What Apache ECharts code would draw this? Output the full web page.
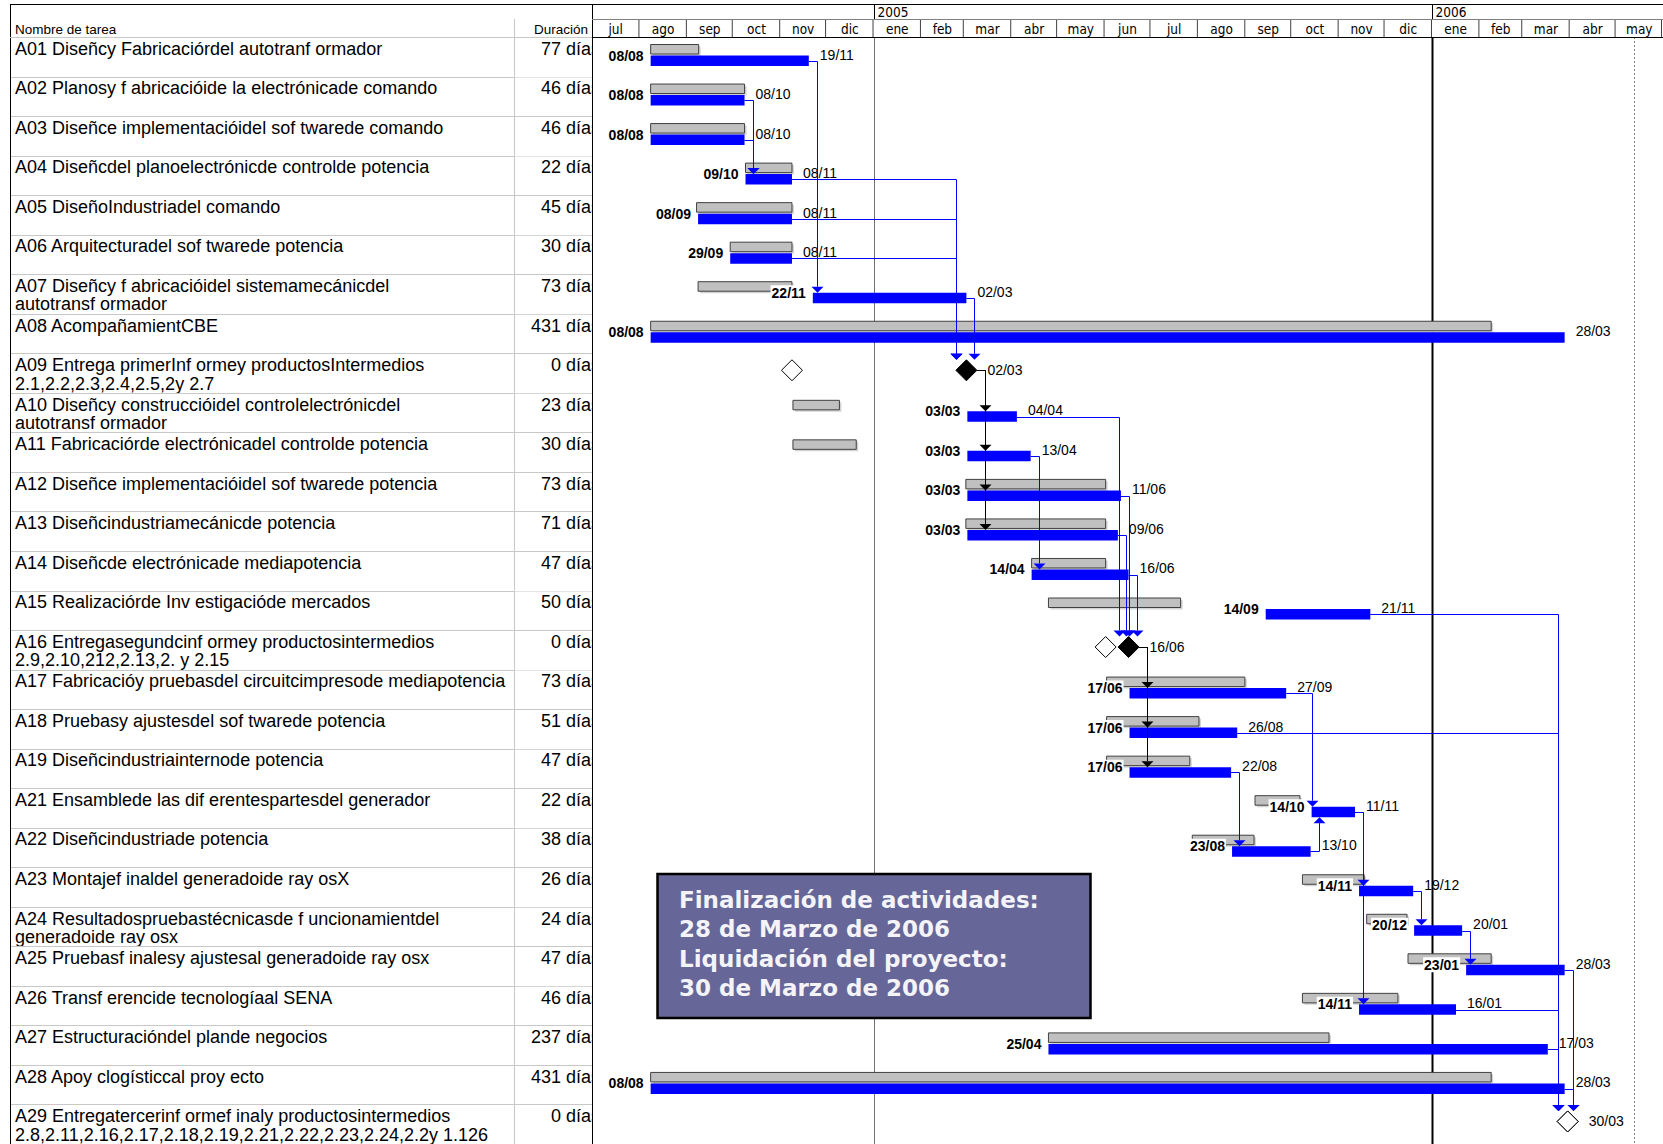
<!DOCTYPE html>
<html>
<head>
<meta charset="utf-8">
<script src="https://cdn.jsdelivr.net/npm/echarts@6/dist/echarts.min.js"></script>
<style>
  html, body { margin: 0; padding: 0; background: #fff; }
  #chart { width: 1663px; height: 1144px; }
</style>
</head>
<body>
<div id="chart"></div>
<script>
// ---- Task table ----
const taskCodes = ['A01','A02','A03','A04','A05','A06','A07','A08','A09','A10','A11','A12','A13','A14',
  'A15','A16','A17','A18','A19','A21','A22','A23','A24','A25','A26','A27','A28','A29'];

const taskNames = [
  'Diseñcy Fabricaciórdel autotranf ormador',
  'Planosy f abricacióide la electrónicade comando',
  'Diseñce implementacióidel sof twarede comando',
  'Diseñcdel planoelectrónicde controlde potencia',
  'DiseñoIndustriadel comando',
  'Arquitecturadel sof twarede potencia',
  'Diseñcy f abricacióidel sistemamecánicdel\nautotransf ormador',
  'AcompañamientCBE',
  'Entrega primerInf ormey productosIntermedios\n2.1,2.2,2.3,2.4,2.5,2y 2.7',
  'Diseñcy construccióidel controlelectrónicdel\nautotransf ormador',
  'Fabricaciórde electrónicadel controlde potencia',
  'Diseñce implementacióidel sof twarede potencia',
  'Diseñcindustriamecánicde potencia',
  'Diseñcde electrónicade mediapotencia',
  'Realizaciórde Inv estigacióde mercados',
  'Entregasegundcinf ormey productosintermedios\n2.9,2.10,212,2.13,2. y 2.15',
  'Fabricacióy pruebasdel circuitcimpresode mediapotencia',
  'Pruebasy ajustesdel sof twarede potencia',
  'Diseñcindustriainternode potencia',
  'Ensamblede las dif erentespartesdel generador',
  'Diseñcindustriade potencia',
  'Montajef inaldel generadoide ray osX',
  'Resultadospruebastécnicasde f uncionamientdel\ngeneradoide ray osx',
  'Pruebasf inalesy ajustesal generadoide ray osx',
  'Transf erencide tecnologíaal SENA',
  'Estructuracióndel plande negocios',
  'Apoy clogísticcal proy ecto',
  'Entregatercerinf ormef inaly productosintermedios\n2.8,2.11,2.16,2.17,2.18,2.19,2.21,2.22,2.23,2.24,2.2y 1.126'
];

const durations = ['77 días','46 días','46 días','22 días','45 días','30 días','73 días','431 días','0 días',
  '23 días','30 días','73 días','71 días','47 días','50 días','0 días','73 días','51 días','47 días',
  '22 días','38 días','26 días','24 días','47 días','46 días','237 días','431 días','0 días'];

// ---- Schedule (actual) ----
const actualStart = ['2004-08-08','2004-08-08','2004-08-08','2004-10-09','2004-09-08','2004-09-29','2004-11-22',
  '2004-08-08','2005-03-02','2005-03-03','2005-03-03','2005-03-03','2005-03-03','2005-04-14','2005-09-14',
  '2005-06-16','2005-06-17','2005-06-17','2005-06-17','2005-10-14','2005-08-23','2005-11-14','2005-12-20',
  '2006-01-23','2005-11-14','2005-04-25','2004-08-08','2006-03-30'];
const actualEnd = ['2004-11-19','2004-10-08','2004-10-08','2004-11-08','2004-11-08','2004-11-08','2005-03-02',
  '2006-03-28','2005-03-02','2005-04-04','2005-04-13','2005-06-11','2005-06-09','2005-06-16','2005-11-21',
  '2005-06-16','2005-09-27','2005-08-26','2005-08-22','2005-11-11','2005-10-13','2005-12-19','2006-01-20',
  '2006-03-28','2006-01-16','2006-03-17','2006-03-28','2006-03-30'];

// ---- Baseline ----
const baselineStart = ['2004-08-08','2004-08-08','2004-08-08','2004-10-09','2004-09-07','2004-09-29','2004-09-08',
  '2004-08-08','2004-11-08','2004-11-09','2004-11-09','2005-03-02','2005-03-02','2005-04-14','2005-04-25',
  '2005-06-01','2005-06-02','2005-06-02','2005-06-02','2005-09-07','2005-07-28','2005-10-08','2005-11-19',
  '2005-12-16','2005-10-08','2005-04-25','2004-08-08','2006-03-30'];
const baselineEnd = ['2004-09-08','2004-10-08','2004-10-08','2004-11-08','2004-11-08','2004-11-08','2004-11-08',
  '2006-02-08','2004-11-08','2004-12-09','2004-12-20','2005-06-01','2005-06-01','2005-06-01','2005-07-20',
  '2005-06-01','2005-08-31','2005-08-01','2005-07-26','2005-10-06','2005-09-06','2005-11-17','2005-12-15',
  '2006-02-08','2005-12-09','2005-10-25','2006-02-08','2006-03-30'];

const milestoneCodes = ['A09','A16','A29'];

// ---- Finish-to-start links ----
const links = [
  ['A01','A07'],['A02','A04'],['A03','A04'],['A04','A09'],['A05','A09'],['A06','A09'],['A07','A09'],
  ['A09','A10'],['A09','A11'],['A09','A12'],['A09','A13'],
  ['A10','A16'],['A11','A14'],['A12','A16'],['A13','A16'],['A14','A16'],
  ['A16','A17'],['A16','A18'],['A16','A19'],
  ['A17','A21'],['A19','A22'],['A22','A21'],['A21','A23'],['A21','A26'],['A23','A24'],['A24','A25'],
  ['A15','A29'],['A18','A29'],['A25','A29'],['A26','A29'],['A27','A29'],['A28','A29']
];

// ---- Timescale ----
const axisStart = '2004-07-01';
const axisEnd = '2006-06-01';
const monthLabels = ['jul','ago','sep','oct','nov','dic','ene','feb','mar','abr','may','jun',
  'jul','ago','sep','oct','nov','dic','ene','feb','mar','abr','may'];
const monthStarts = ['2004-07-01','2004-08-01','2004-09-01','2004-10-01','2004-11-01','2004-12-01',
  '2005-01-01','2005-02-01','2005-03-01','2005-04-01','2005-05-01','2005-06-01','2005-07-01','2005-08-01',
  '2005-09-01','2005-10-01','2005-11-01','2005-12-01','2006-01-01','2006-02-01','2006-03-01','2006-04-01',
  '2006-05-01'];
const yearLabels = ['2005','2006'];
const yearStarts = ['2005-01-01','2006-01-01'];
const ruleDates = ['2005-01-01','2006-01-01','2006-05-13'];

const noteLines = ['Finalización de actividades:', '28 de Marzo de 2006', 'Liquidación del proyecto:', '30 de Marzo de 2006'];

// ---- helpers ----
function ts(s, h) { const p = s.split('-').map(Number); return new Date(p[0], p[1] - 1, p[2], h || 0).getTime(); }
const dm = s => s.slice(8, 10) + '/' + s.slice(5, 7);
const idxOf = {}; taskCodes.forEach((c, i) => { idxOf[c] = i; });
const isMs = i => milestoneCodes.indexOf(taskCodes[i]) >= 0;
const AX_MIN = ts(axisStart), AX_MAX = ts(axisEnd);
const ROWS = taskCodes.length;

// layout/style constants
const ROW_H = 39.6;
const BASE_Y = 7.5, BASE_H = 9.5;
const BAR_Y = 18.5, BAR_H = 10.5;
const MS_Y = 17, MS_R = 10.5;
const SANS = '"Liberation Sans", Arial, sans-serif';
const NARROW = '"Liberation Sans Narrow", "DejaVu Sans Condensed", "Liberation Sans", sans-serif';
const BLUE = '#0000ff';

function rowTop(api, i) { return api.coord([AX_MIN, i])[1]; }
function diamond(cx, cy, r) { return [[cx, cy - r], [cx + r, cy], [cx, cy + r], [cx - r, cy]]; }

const chart = echarts.init(document.getElementById('chart'), null, { renderer: 'svg' });

const taskRows = taskCodes.map((c, i) => [0, i]);
const barData = [], baseData = [], msData = [], baseMsData = [];
taskCodes.forEach((c, i) => {
  if (isMs(i)) {
    msData.push([ts(actualStart[i], 17), i]);
    baseMsData.push([ts(baselineStart[i], 17), i]);
  } else {
    barData.push([ts(actualStart[i], 8), i, ts(actualEnd[i], 17)]);
    baseData.push([ts(baselineStart[i], 8), i, ts(baselineEnd[i], 17)]);
  }
});

const option = {
  animation: false,
  backgroundColor: '#fff',
  grid: [
    { left: 592, right: 0, top: 37, height: ROWS * ROW_H },
    { left: 592, right: 0, top: 4, height: 33 },
    { left: 10, width: 582, top: 37, height: ROWS * ROW_H }
  ],
  xAxis: [
    { gridIndex: 0, type: 'time', min: AX_MIN, max: AX_MAX, show: false, splitLine: { show: false } },
    { gridIndex: 1, type: 'time', min: AX_MIN, max: AX_MAX, show: false, splitLine: { show: false } },
    { gridIndex: 2, type: 'value', min: 0, max: 582, show: false, splitLine: { show: false } }
  ],
  yAxis: [
    { gridIndex: 0, type: 'value', min: 0, max: ROWS, inverse: true, show: false, splitLine: { show: false } },
    { gridIndex: 1, type: 'value', min: 0, max: 1, show: false, splitLine: { show: false } },
    { gridIndex: 2, type: 'value', min: 0, max: ROWS, inverse: true, show: false, splitLine: { show: false } }
  ],
  graphic: [
    // table frame
    { type: 'line', z: 40, shape: { x1: 10, y1: 4.5, x2: 1663, y2: 4.5 }, style: { stroke: '#000', lineWidth: 1 } },
    { type: 'line', z: 40, shape: { x1: 10.5, y1: 4, x2: 10.5, y2: 1144 }, style: { stroke: '#000', lineWidth: 1 } },
    { type: 'line', z: 40, shape: { x1: 592.5, y1: 4, x2: 592.5, y2: 1144 }, style: { stroke: '#000', lineWidth: 1 } },
    { type: 'line', z: 40, shape: { x1: 10, y1: 37.5, x2: 592, y2: 37.5 }, style: { stroke: '#c8c8c8', lineWidth: 1 } },
    { type: 'line', z: 40, shape: { x1: 514.5, y1: 19, x2: 514.5, y2: 37 }, style: { stroke: '#c8c8c8', lineWidth: 1 } },
    { type: 'line', z: 40, shape: { x1: 592, y1: 19.5, x2: 1663, y2: 19.5 }, style: { stroke: '#808080', lineWidth: 1 } },
    { type: 'line', z: 40, shape: { x1: 592, y1: 37.5, x2: 1663, y2: 37.5 }, style: { stroke: '#000', lineWidth: 1 } },
    { type: 'text', z: 40, style: { text: 'Nombre de tarea', x: 15, y: 29, verticalAlign: 'middle', font: '13.5px ' + SANS, fill: '#000' } },
    { type: 'text', z: 40, style: { text: 'Duración', x: 588, y: 29, align: 'right', verticalAlign: 'middle', font: '13.5px ' + SANS, fill: '#000' } },
    // note box
    {
      type: 'group', z: 60, children: [
        { type: 'rect', z: 60, shape: { x: 657.5, y: 874, width: 433, height: 144 }, style: { fill: '#666699', stroke: '#000', lineWidth: 2.5 } }
      ].concat(noteLines.map((t, k) => ({
        type: 'text', z: 61,
        style: { text: t, x: 679, y: 900 + k * 29.3, verticalAlign: 'middle', font: 'bold 23px "DejaVu Sans", Verdana, sans-serif', fill: '#f4f4f8' }
      })))
    }
  ],
  series: [
    // task name / duration table
    {
      type: 'custom', xAxisIndex: 2, yAxisIndex: 2, clip: true, z: 2, data: taskRows,
      renderItem: function (params, api) {
        const i = api.value(1);
        const cs = params.coordSys;
        const top = api.coord([0, i])[1];
        const bot = api.coord([0, i + 1])[1];
        const x0 = cs.x;
        return {
          type: 'group', children: [
            { type: 'text', style: { text: taskCodes[i] + ' ' + taskNames[i], x: x0 + 5, y: top + 2.5, verticalAlign: 'top',
              lineHeight: 18.5, font: '18px ' + SANS, fill: '#000' } },
            // duration cell covers any overflow of the name column
            { type: 'rect', shape: { x: x0 + 505, y: top + 1, width: 80, height: bot - top - 1 }, style: { fill: '#fff' } },
            { type: 'text', style: { text: durations[i], x: x0 + 590, y: top + 11.75, align: 'right', verticalAlign: 'middle',
              font: '18px ' + SANS, fill: '#000' } },
            { type: 'line', shape: { x1: x0, y1: Math.round(bot) + 0.5, x2: x0 + cs.width, y2: Math.round(bot) + 0.5 },
              style: { stroke: '#c8c8c8', lineWidth: 1 } },
            { type: 'line', shape: { x1: x0 + 504.5, y1: top, x2: x0 + 504.5, y2: bot }, style: { stroke: '#c8c8c8', lineWidth: 1 } }
          ]
        };
      }
    },
    // timescale: months
    {
      type: 'custom', xAxisIndex: 1, yAxisIndex: 1, z: 2,
      data: monthStarts.map((d, k) => [ts(d), 0, k < monthStarts.length - 1 ? ts(monthStarts[k + 1]) : AX_MAX]),
      renderItem: function (params, api) {
        const cs = params.coordSys;
        const x1 = api.coord([api.value(0), 0])[0];
        const x2 = api.coord([api.value(2), 0])[0];
        const k = params.dataIndex;
        const yTop = cs.y + 15.5, yBot = cs.y + cs.height;
        const ch = [
          { type: 'text', style: { text: monthLabels[k], x: (x1 + x2) / 2, y: cs.y + 24.5, align: 'center', verticalAlign: 'middle',
            font: '13.5px ' + NARROW, fill: '#000' } },
          { type: 'line', shape: { x1: Math.min(x2, 1662) - 0.5, y1: yTop, x2: Math.min(x2, 1662) - 0.5, y2: yBot }, style: { stroke: '#404040', lineWidth: 1 } }
        ];
        return { type: 'group', children: ch };
      }
    },
    // timescale: years
    {
      type: 'custom', xAxisIndex: 1, yAxisIndex: 1, z: 2,
      data: yearStarts.map(d => [ts(d), 0]),
      renderItem: function (params, api) {
        const cs = params.coordSys;
        const x = Math.round(api.coord([api.value(0), 0])[0]) + 0.5;
        return {
          type: 'group', children: [
            { type: 'line', shape: { x1: x, y1: cs.y, x2: x, y2: cs.y + 15.5 }, style: { stroke: '#000', lineWidth: 1 } },
            { type: 'text', style: { text: yearLabels[params.dataIndex], x: x + 3, y: cs.y + 7.5, verticalAlign: 'middle',
              font: '13.5px ' + NARROW, fill: '#000' } }
          ]
        };
      }
    },
    // vertical rules across the schedule
    {
      type: 'custom', xAxisIndex: 0, yAxisIndex: 0, z: 1,
      data: ruleDates.map(d => [ts(d), 0]),
      renderItem: function (params, api) {
        const cs = params.coordSys;
        const x = Math.round(api.coord([api.value(0), 0])[0]) + 0.5;
        const looks = [
          { stroke: '#707070', lineWidth: 1 },
          { stroke: '#000', lineWidth: 2 },
          { stroke: '#808080', lineWidth: 1, lineDash: [2, 2] }
        ];
        return { type: 'line', shape: { x1: x, y1: cs.y, x2: x, y2: cs.y + cs.height }, style: looks[params.dataIndex] };
      }
    },
    // baseline bars
    {
      type: 'custom', xAxisIndex: 0, yAxisIndex: 0, z: 3, data: baseData,
      renderItem: function (params, api) {
        const i = api.value(1);
        const top = rowTop(api, i);
        const x1 = api.coord([api.value(0), i])[0];
        const x2 = api.coord([api.value(2), i])[0];
        return {
          type: 'group', children: [
            { type: 'rect', shape: { x: x1 + 2, y: top + BASE_Y + 2, width: x2 - x1, height: BASE_H }, style: { fill: '#d4d4d4' } },
            { type: 'rect', shape: { x: x1, y: top + BASE_Y, width: x2 - x1, height: BASE_H },
              style: { fill: '#c0c0c0', stroke: '#404040', lineWidth: 1 } }
          ]
        };
      }
    },
    // baseline milestones (drawn later so a coinciding one stays hollow)
    {
      type: 'custom', xAxisIndex: 0, yAxisIndex: 0, z: 5, data: baseMsData,
      renderItem: function (params, api) {
        const i = api.value(1);
        const top = rowTop(api, i);
        const x = api.coord([api.value(0), i])[0];
        return { type: 'polygon', shape: { points: diamond(x, top + MS_Y, MS_R) }, style: { fill: '#fff', stroke: '#000', lineWidth: 1 } };
      }
    },
    // actual bars
    {
      type: 'custom', xAxisIndex: 0, yAxisIndex: 0, z: 4, data: barData,
      renderItem: function (params, api) {
        const i = api.value(1);
        const top = rowTop(api, i);
        const x1 = api.coord([api.value(0), i])[0];
        const x2 = api.coord([api.value(2), i])[0];
        return { type: 'rect', shape: { x: x1, y: top + BAR_Y, width: x2 - x1, height: BAR_H }, style: { fill: BLUE } };
      }
    },
    // actual milestones
    {
      type: 'custom', xAxisIndex: 0, yAxisIndex: 0, z: 4, data: msData,
      renderItem: function (params, api) {
        const i = api.value(1);
        const top = rowTop(api, i);
        const x = api.coord([api.value(0), i])[0];
        return {
          type: 'group', children: [
            { type: 'polygon', shape: { points: diamond(x, top + MS_Y, MS_R) }, style: { fill: '#000', stroke: '#000', lineWidth: 1 } },
            { type: 'text', z2: 10, style: { text: dm(actualEnd[i]), x: x + 21, y: top + MS_Y, verticalAlign: 'middle', font: '14px ' + SANS, fill: '#000' } }
          ]
        };
      }
    },
    // dependency links
    {
      type: 'custom', xAxisIndex: 0, yAxisIndex: 0, z: 6,
      data: links.map((l, k) => [AX_MIN, idxOf[l[0]], k]),
      renderItem: function (params, api) {
        const l = links[params.dataIndex];
        const p = idxOf[l[0]], q = idxOf[l[1]];
        const pTop = rowTop(api, p), qTop = rowTop(api, q);
        let px, py, qx;
        if (isMs(p)) { px = api.coord([ts(actualEnd[p], 17), p])[0] + MS_R; py = pTop + MS_Y; }
        else { px = api.coord([ts(actualEnd[p], 17), p])[0]; py = pTop + BAR_Y + BAR_H / 2; }
        if (isMs(q)) qx = api.coord([ts(actualStart[q], 17), q])[0] - 10;
        else qx = api.coord([ts(actualStart[q], 8), q])[0];
        const x = Math.round(Math.max(px + 8, qx)) + 0.5;
        const down = q > p;
        let ty;
        if (down) ty = isMs(q) ? qTop + MS_Y - MS_R : qTop + BAR_Y;
        else ty = isMs(q) ? qTop + MS_Y + MS_R : qTop + BAR_Y + BAR_H;
        const ah = 6, aw = 6;
        const base = down ? ty - ah : ty + ah;
        const col = isMs(p) ? '#000' : BLUE;
        const yLine = Math.round(py) + 0.5;
        return {
          type: 'group', children: [
            { type: 'polyline', shape: { points: [[px, yLine], [x, yLine], [x, base]] }, style: { stroke: col, lineWidth: 1, fill: null } },
            { type: 'polygon', shape: { points: [[x - aw, base], [x + aw, base], [x, ty]] }, style: { fill: col } }
          ]
        };
      }
    },
    // date labels on the actual bars
    {
      type: 'custom', xAxisIndex: 0, yAxisIndex: 0, z: 7, data: barData,
      renderItem: function (params, api) {
        const i = api.value(1);
        const top = rowTop(api, i);
        const x1 = api.coord([api.value(0), i])[0];
        const x2 = api.coord([api.value(2), i])[0];
        return {
          type: 'group', children: [
            { type: 'text', style: { text: dm(actualStart[i]), x: x1 - 6, y: top + BAR_Y, align: 'right', verticalAlign: 'middle',
              font: 'bold 14px ' + SANS, fill: '#000', backgroundColor: '#fff', padding: [1, 1, 0, 1] } },
            { type: 'text', style: { text: dm(actualEnd[i]), x: x2 + 11, y: top + BAR_Y - 1, verticalAlign: 'middle',
              font: '14px ' + SANS, fill: '#000' } }
          ]
        };
      }
    }
  ]
};

chart.setOption(option);
</script>
</body>
</html>
